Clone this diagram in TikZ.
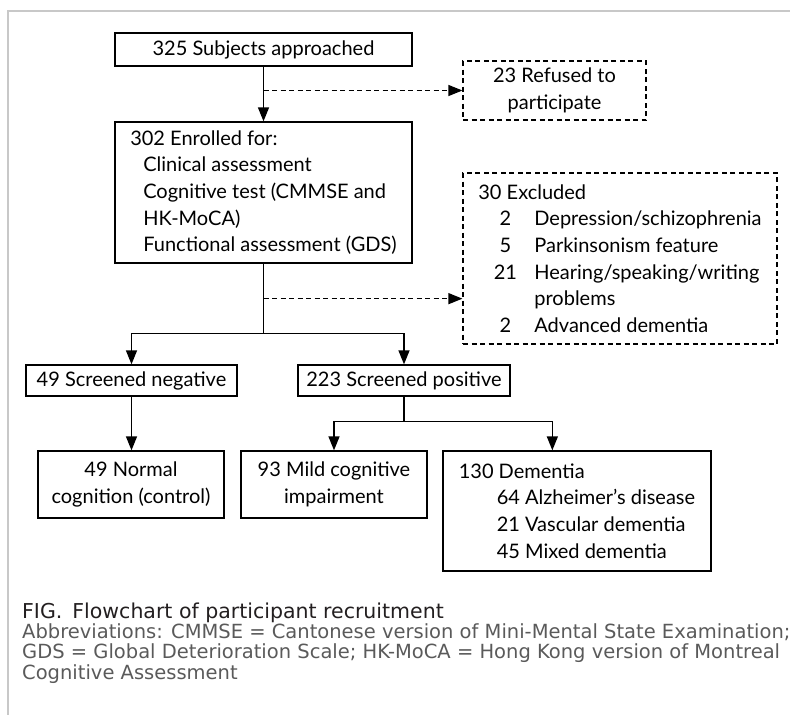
\documentclass[tikz,border=0pt]{standalone}
\usepackage{fontspec}
\setmainfont{Lato}
\newfontfamily\bredfont{DejaVu Sans}
\usepackage{tikz}
\usetikzlibrary{arrows.meta}
\usetikzlibrary{positioning,calc}
\tikzset{>={Triangle[length=14pt,width=11pt]}}
\definecolor{rammegraa}{HTML}{C8C8C8}
\definecolor{figtekst}{HTML}{231F20}
\definecolor{tekstgraa}{HTML}{5A5A5A}

\begin{document}
\begin{tikzpicture}[
    x=1pt, y=-1pt,
    every node/.style={inner sep=0pt, font=\fontsize{20}{26.7}\selectfont},
    boks/.style={rectangle, draw, line width=1.3pt},
    stiplet/.style={rectangle, draw, line width=1.2pt, dash pattern=on 5pt off 3.5pt},
    pil/.style={draw, line width=1.3pt, ->},
    pilstiplet/.style={draw, line width=1.2pt, ->, dash pattern=on 5pt off 3.5pt}
    ]
\useasboundingbox (0,0) rectangle (790,715);
\draw[rammegraa, line width=1.5pt] (8,715) -- (8,11) -- (790,11);

% upper part
\node[boks, minimum width=297pt, minimum height=33pt] (approached) at (263.5,49.5)
    {325 Subjects approached};
\node[stiplet, minimum width=183pt, minimum height=59pt, align=center] (refused) at (554.5,90.5)
    {23 Refused to\\participate};
\node[boks, minimum width=297pt, minimum height=141pt, align=left] (enrolled) at (263.5,192.5) {
    302 Enrolled for:\\
    \hspace*{13pt}Clinical assessment\\
    \hspace*{13pt}Cognitive test (CMMSE and\\
    \hspace*{13pt}HK-MoCA)\\
    \hspace*{13pt}Functional assessment (GDS)
    };
\node[stiplet, minimum width=314pt, minimum height=171pt, align=left] (excluded) at (620,258.5) {
    30 Excluded\\
    \hspace*{17pt}\makebox[20pt]{2}\hspace*{19pt}Depression/schizophrenia\\
    \hspace*{17pt}\makebox[20pt]{5}\hspace*{19pt}Parkinsonism feature\\
    \hspace*{17pt}\makebox[20pt]{21}\hspace*{19pt}Hearing/speaking/writing\\
    \hspace*{56pt}problems\\
    \hspace*{17pt}\makebox[20pt]{2}\hspace*{19pt}Advanced dementia
    };

% screening
\node[boks, minimum width=211pt, minimum height=31pt] (negative) at (131.5,380.5)
    {49 Screened negative};
\node[boks, minimum width=212pt, minimum height=31pt] (positive) at (404,380.5)
    {223 Screened positive};

% lower part
\node[boks, minimum width=186pt, minimum height=67pt, align=center] (normal) at (131,484.5)
    {49 Normal\\cognition (control)};
\node[boks, minimum width=186pt, minimum height=67pt, align=center] (mci) at (334,484.5)
    {93 Mild cognitive\\impairment};
\node[boks, minimum width=268pt, minimum height=120pt, align=left] (dementia) at (577,511) {
    130 Dementia\\
    \hspace*{38pt}64 Alzheimer’s disease\\
    \hspace*{38pt}21 Vascular dementia\\
    \hspace*{38pt}45 Mixed dementia
    };

% connectors
\draw[pil] (approached) -- (enrolled);
\draw[pilstiplet] (approached.south |- refused.west) -- (refused.west);
\draw[line width=1.3pt] (enrolled.south) -- ++(0,70) coordinate (deling);
\coordinate (utelatt) at ($(enrolled.south)+(0,35)$);
\draw[pilstiplet] (utelatt) -- (excluded.west |- utelatt);
\draw[pil] (deling) -| (negative);
\draw[pil] (deling) -| (positive);
\draw[pil] (negative.south) -- (negative.south |- normal.north);
\draw[line width=1.3pt] (positive.south) -- ++(0,25) coordinate (deling2);
\draw[pil] (deling2) -| (mci);
\draw[pil] (deling2) -| ($(dementia.north west)+(110,0)$);

% caption
\node[anchor=west, text=figtekst, font=\bredfont\fontsize{20.5}{22}\selectfont] (fig) at (22,613)
    {FIG.\hspace{10pt}Flowchart of participant recruitment};
\node[anchor=west, align=left, text=tekstgraa, font=\bredfont\fontsize{19.5}{20.6}\selectfont] (forkortelser) at (22,653.5) {
    Abbreviations: CMMSE = Cantonese version of Mini-Mental State Examination;\\
    GDS = Global Deterioration Scale; HK-MoCA = Hong Kong version of Montreal\\
    Cognitive Assessment
    };
\end{tikzpicture}
\end{document}
